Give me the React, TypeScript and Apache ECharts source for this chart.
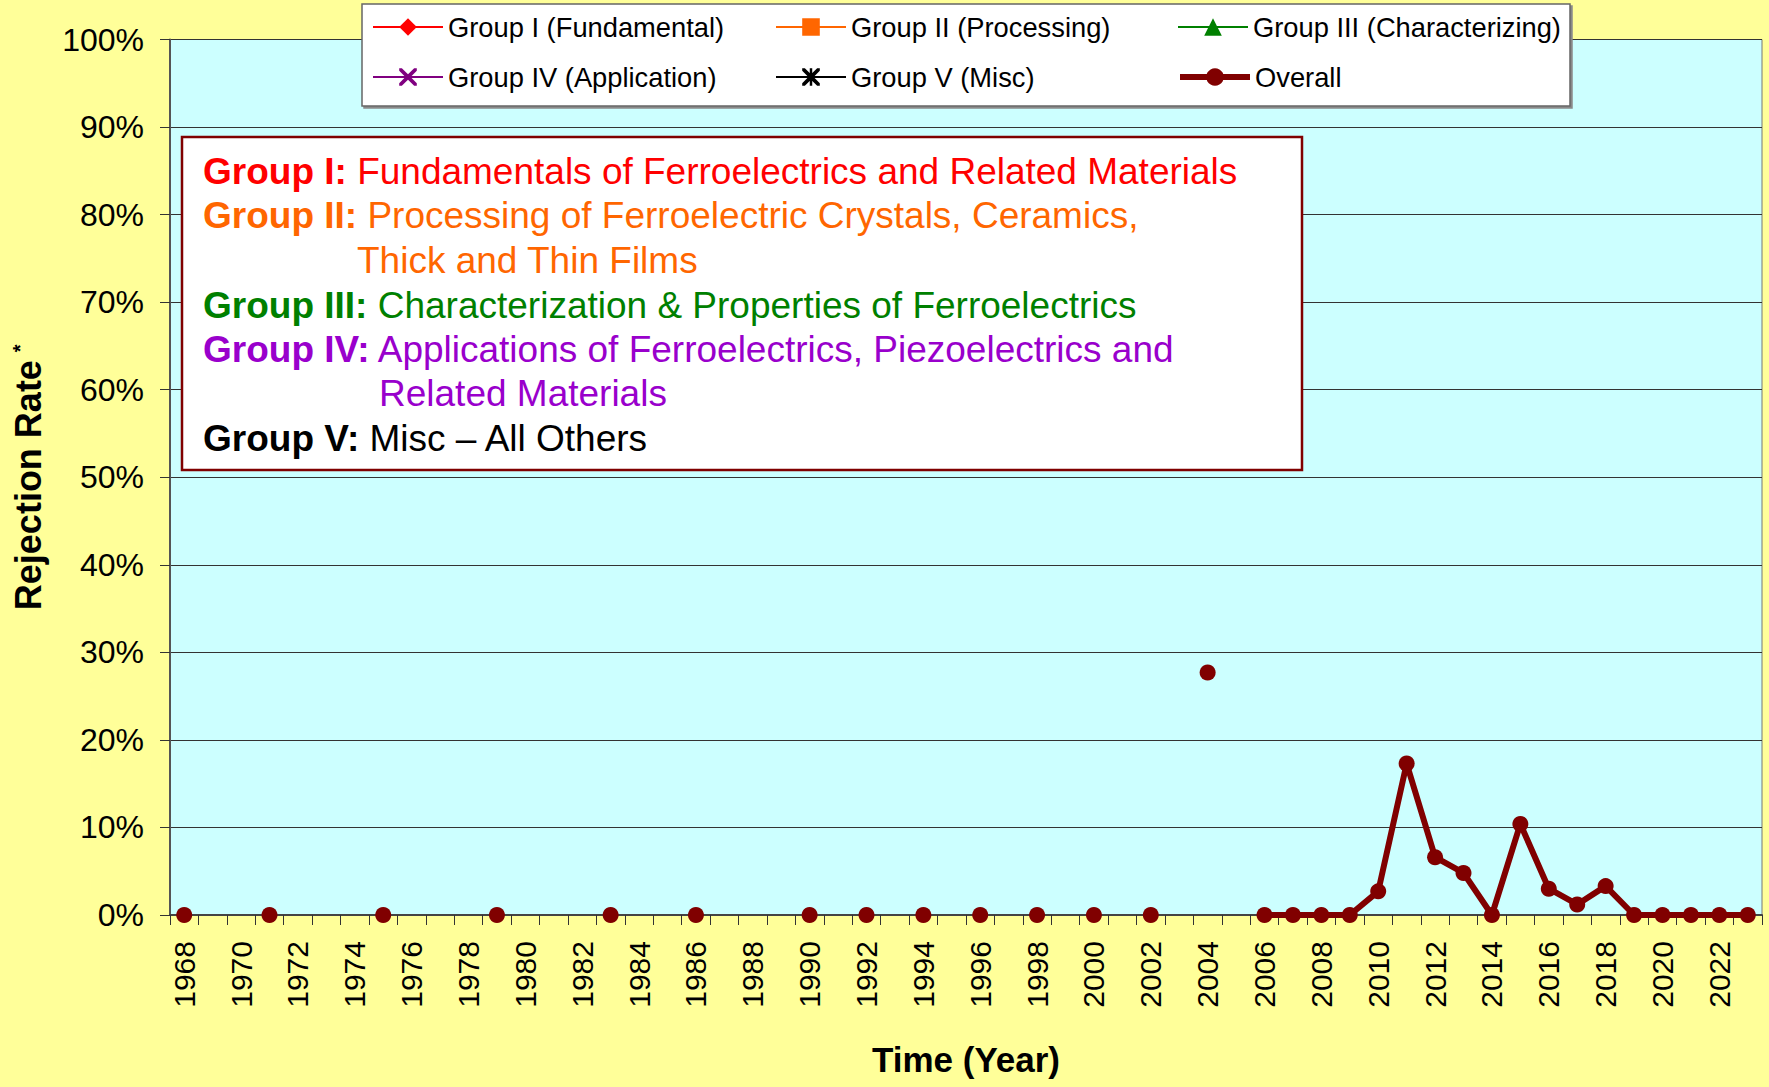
import React, { useEffect, useRef } from "react";
import * as echarts from "echarts";

const years: string[] = [];
for (let y = 1968; y <= 2023; y++) years.push(String(y));

const yTicks = [0, 10, 20, 30, 40, 50, 60, 70, 80, 90, 100];

// Overall rejection rate (%) at the years that have a value
const overallYears = [
  1968, 1971, 1975, 1979, 1983, 1986, 1990, 1992, 1994, 1996, 1998, 2000, 2002, 2004,
  2006, 2007, 2008, 2009, 2010, 2011, 2012, 2013, 2014, 2015, 2016, 2017, 2018, 2019,
  2020, 2021, 2022, 2023,
];
const overallRates = [
  0, 0, 0, 0, 0, 0, 0, 0, 0, 0, 0, 0, 0, 27.7,
  0, 0, 0, 0, 2.7, 17.3, 6.6, 4.8, 0, 10.4, 3.0, 1.2, 3.3, 0,
  0, 0, 0, 0,
];

// Per-group series: no points visible in the chart
const groupIRates: number[] = [];
const groupIIRates: number[] = [];
const groupIIIRates: number[] = [];
const groupIVRates: number[] = [];
const groupVRates: number[] = [];

const seriesNames = [
  "Group I (Fundamental)",
  "Group II (Processing)",
  "Group III (Characterizing)",
  "Group IV (Application)",
  "Group V (Misc)",
  "Overall",
];

const boxLines = [
  { bold: "Group I:", text: " Fundamentals of Ferroelectrics and Related Materials", color: "#FF0000" },
  { bold: "Group II:", text: " Processing of Ferroelectric Crystals, Ceramics,", color: "#FF6600" },
  { bold: "", text: "Thick and Thin Films", color: "#FF6600" },
  { bold: "Group III:", text: " Characterization & Properties of Ferroelectrics", color: "#008000" },
  { bold: "Group IV:", text: " Applications of Ferroelectrics, Piezoelectrics and", color: "#9900CC" },
  { bold: "", text: "Related Materials", color: "#9900CC" },
  { bold: "Group V:", text: " Misc \u2013 All Others", color: "#000000" },
];

const FONT = "'Liberation Sans', Arial, Helvetica, sans-serif";

const X_PATH =
  "path://M0,0 L3,0 L10,7 L17,0 L20,0 L20,3 L13,10 L20,17 L20,20 L17,20 L10,13 L3,20 L0,20 L0,17 L7,10 L0,3 Z";
const STAR_PATH =
  "path://M0,0 L3,0 L10,7 L17,0 L20,0 L20,3 L13,10 L20,17 L20,20 L17,20 L10,13 L3,20 L0,20 L0,17 L7,10 L0,3 Z M8.6,0 L11.4,0 L11.4,20 L8.6,20 Z";

function toCategoryData(ys: number[], vals: number[]): (number | null)[] {
  const arr: (number | null)[] = years.map(() => null);
  ys.forEach((y, i) => {
    const idx = years.indexOf(String(y));
    if (idx >= 0) arr[idx] = vals[i];
  });
  return arr;
}

export default function App() {
  const ref = useRef<HTMLDivElement>(null);

  useEffect(() => {
    document.body.style.margin = "0";
    const chart = echarts.init(ref.current!, null, { renderer: "svg" });

    const legendPos = [
      { left: 372, top: 11 },
      { left: 775, top: 11 },
      { left: 1177, top: 11 },
      { left: 372, top: 61 },
      { left: 775, top: 61 },
      { left: 1177, top: 61 },
    ];
    const legendLineWidth = [2, 2, 2, 2, 2, 6];

    const legends = seriesNames.map((name, i) => ({
      data: [name],
      left: legendPos[i].left,
      top: legendPos[i].top,
      padding: 0,
      itemWidth: 70,
      itemHeight: 22,
      selectedMode: false,
      z: 5,
      lineStyle: { width: legendLineWidth[i] },
      textStyle: { fontSize: 27.3, fontFamily: FONT, color: "#000", lineHeight: 32 },
    }));

    const thin = (name: string, color: string, symbol: string, data: number[]) => ({
      name,
      type: "line",
      data: toCategoryData([], data),
      symbol,
      symbolSize: 12,
      itemStyle: { color },
      lineStyle: { color, width: 2 },
      connectNulls: false,
    });

    const graphics: any[] = [
      {
        type: "rect",
        z: 3,
        shape: { x: 362, y: 4, width: 1208, height: 102 },
        style: {
          fill: "#FFFFFF",
          stroke: "#666666",
          lineWidth: 1.5,
          shadowColor: "#8a8a8a",
          shadowOffsetX: 2,
          shadowOffsetY: 2,
          shadowBlur: 0,
        },
      },
      {
        type: "rect",
        z: 10,
        shape: { x: 182, y: 137, width: 1120, height: 333 },
        style: { fill: "#FFFFFF", stroke: "#800000", lineWidth: 2.5 },
      },
    ];

    const lineY = [171.5, 215.5, 260.6, 305.7, 349.7, 393.7, 438.8];
    const lineX = [203, 203, 357, 203, 203, 379, 203];
    boxLines.forEach((ln, i) => {
      graphics.push({
        type: "text",
        z: 11,
        x: lineX[i],
        y: lineY[i],
        style: {
          text: (ln.bold ? `{b|${ln.bold}}` : "") + `{r|${ln.text}}`,
          verticalAlign: "middle",
          align: "left",
          rich: {
            b: { fontSize: 37, fontWeight: "bold", fontFamily: FONT, fill: ln.color },
            r: { fontSize: 37, fontFamily: FONT, fill: ln.color },
          },
        },
      });
    });

    const option: any = {
      animation: false,
      backgroundColor: "#FFFF99",
      textStyle: { fontFamily: FONT },
      legend: legends,
      grid: {
        left: 170,
        right: 7,
        top: 39.5,
        bottom: 172,
        show: true,
        backgroundColor: "#CCFFFF",
        borderColor: "#777777",
        borderWidth: 1,
        containLabel: false,
      },
      xAxis: {
        type: "category",
        data: years,
        boundaryGap: true,
        name: "Time (Year)",
        nameLocation: "middle",
        nameGap: 127,
        nameTextStyle: { fontSize: 35, fontWeight: "bold", color: "#000", fontFamily: FONT },
        axisLine: { show: true, lineStyle: { color: "#444", width: 2 } },
        axisTick: { show: true, interval: 0, length: 10, alignWithLabel: false, lineStyle: { color: "#333", width: 1 } },
        axisLabel: {
          interval: 1,
          rotate: 90,
          fontSize: 30,
          margin: 26,
          color: "#000",
          fontFamily: FONT,
        },
        splitLine: { show: false },
      },
      yAxis: {
        type: "value",
        min: 0,
        max: 100,
        interval: 10,
        name: "{a|Rejection Rate}{s|*}",
        nameLocation: "middle",
        nameGap: 124,
        nameTextStyle: {
          rich: {
            a: { fontSize: 36, fontWeight: "bold", color: "#000", fontFamily: FONT },
            s: { fontSize: 20, fontWeight: "bold", color: "#000", fontFamily: FONT, verticalAlign: "top", padding: [0, 0, 0, 8] },
          },
        },
        axisLine: { show: true, lineStyle: { color: "#555", width: 2 } },
        axisTick: { show: true, length: 10, lineStyle: { color: "#333", width: 1 } },
        axisLabel: {
          fontSize: 32,
          margin: 26,
          color: "#000",
          fontFamily: FONT,
          formatter: (v: number) => (yTicks.indexOf(v) >= 0 ? `${v}%` : ""),
        },
        splitLine: { show: true, lineStyle: { color: "#333", width: 1 } },
      },
      series: [
        thin(seriesNames[0], "#FF0000", "diamond", groupIRates),
        thin(seriesNames[1], "#FF6600", "rect", groupIIRates),
        thin(seriesNames[2], "#008000", "triangle", groupIIIRates),
        thin(seriesNames[3], "#800080", X_PATH, groupIVRates),
        thin(seriesNames[4], "#000000", STAR_PATH, groupVRates),
        {
          name: seriesNames[5],
          type: "line",
          data: toCategoryData(overallYears, overallRates),
          symbol: "circle",
          symbolSize: 16,
          showSymbol: true,
          connectNulls: false,
          itemStyle: { color: "#800000" },
          lineStyle: { color: "#800000", width: 6 },
          z: 6,
        },
      ],
      graphic: graphics,
    };

    chart.setOption(option);
    return () => chart.dispose();
  }, []);

  return <div ref={ref} style={{ width: 1769, height: 1087 }} />;
}
